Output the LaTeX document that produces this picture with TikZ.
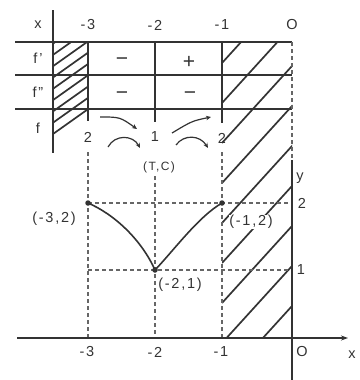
\documentclass[tikz,border=0pt]{standalone}
\usepackage{fontspec}
\setmainfont{Liberation Sans}[LetterSpace=12]
\usetikzlibrary{arrows.meta}
\definecolor{ink}{HTML}{333333}
\definecolor{guidegray}{HTML}{666666}
\begin{document}
\begin{tikzpicture}[x=1pt,y=-1pt,
  every node/.style={text=ink, font=\fontsize{14.5}{16}\selectfont, inner sep=0.5pt},
  sign/.style={font=\fontsize{21}{22}\selectfont},
  rule/.style={draw=ink, line width=1.6pt},
  hatchline/.style={draw=ink, line width=1.7pt},
  guide/.style={draw=guidegray, line width=1.2pt, dash pattern=on 4pt off 3pt},
  trend/.style={draw=ink, line width=1.2pt, -{Stealth[length=5pt,width=4.5pt]}},
  pt/.style={circle, fill=ink, minimum size=5.5pt, inner sep=0pt},
]
\useasboundingbox (0,0) rectangle (359,380);

% hatching, right
\begin{scope}
  \clip (222,42) rectangle (292,338);
  \foreach \c in {63,103,...,383} \draw[hatchline] (222,\c) -- ++(80,-88);
\end{scope}
% hatching, left
\begin{scope}
  \clip (53,42) -- (88,42) -- (88,112) -- (53,137) -- cycle;
  \foreach \k in {0,...,8} \draw[hatchline] (53,{134-11.3*\k}) -- ++(40,-28.4);
\end{scope}

% table rules
\draw[rule] (15,42) -- (292,42);
\draw[rule] (15,75) -- (292,75);
\draw[rule] (15,109) -- (292,109);
\draw[rule] (53,10) -- (53,153);
\draw[rule] (88,42) -- (88,121);
\draw[rule] (155,42) -- (155,122);
\draw[rule] (222,42) -- (222,123);
\draw[guide] (292,42) -- (292,165);

% table header
\node (hx) at (38,25) {x};
\node (h3) at (88,25) {-3};
\node (h2) at (155,25) {-2};
\node (h1) at (222,25) {-1};
\node (h0) at (292,25) {O};
\node (rf1) at (38,58) {f'};
\node (rf2) at (38,92) {f''};
\node (rf) at (38,128) {f};
\node[sign] (s11) at (122,62) {−};
\node[sign] (s12) at (189,62) {+};
\node[sign] (s21) at (122,96) {−};
\node[sign] (s22) at (190,96) {−};
\node (v1) at (88,137) {2};
\node (v2) at (155,137) {1};
\node (v3) at (222,138) {2};
\node[font=\fontsize{12}{13}\selectfont] (tc) at (159,167) {(T,C)};

% variation arrows
\coordinate (a1) at (100,117);
\coordinate (a2) at (137,129);
\coordinate (a3) at (172,133);
\coordinate (a4) at (211,117);
\coordinate (c1) at (108,147);
\coordinate (c2) at (140,148);
\coordinate (c3) at (176,145);
\coordinate (c4) at (208,148);
\draw[trend] (a1) .. controls (120,117) .. (a2);
\draw[trend] (a3) .. controls (192,121) .. (a4);
\draw[trend] (c1) .. controls (115,134) and (133,135) .. (c2);
\draw[trend] (c3) .. controls (184,134) and (200,135) .. (c4);

% guides
\draw[guide] (88,152) -- (88,338);
\draw[guide] (155,176) -- (155,338);
\draw[guide] (222,152) -- (222,338);
\draw[guide] (88,203) -- (292,203);
\draw[guide] (88,270) -- (292,270);

% axes
\coordinate (xs) at (17,338);
\coordinate (xe) at (348,338);
\coordinate (ys) at (292,160);
\coordinate (ye) at (292,380);
\draw[rule, -{Stealth[length=7pt,width=5pt]}] (xs) -- (xe);
\draw[rule] (ys) -- (ye);

% curve
\node[pt] (A) at (88,203) {};
\node[pt] (B) at (155,270) {};
\node[pt] (C) at (222,203) {};
\draw[draw=ink, line width=1.6pt] (A.center) .. controls (114.8,214.5) and (141.6,240.1) .. (B.center)
  .. controls (173.8,250.3) and (198.6,216.5) .. (C.center);

% labels
\node (lA) at (54,219) {(-3,2)};
\node (lB) at (180,285) {(-2,1)};
\node[fill=white] (lC) at (251,222) {(-1,2)};
\node (ly2) at (302,203) {2};
\node (ly1) at (301,270) {1};
\node (lx3) at (87,352) {-3};
\node (lx2) at (155,352) {-2};
\node (lx1) at (221,352) {-1};
\node (lO) at (302,352) {O};
\node (lx) at (352,355) {x};
\node (ly) at (300,178) {y};
\end{tikzpicture}
\end{document}
